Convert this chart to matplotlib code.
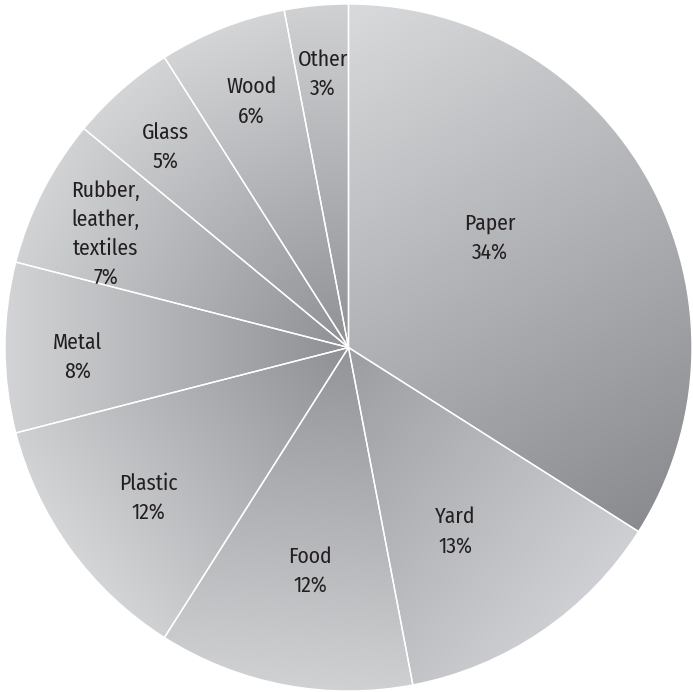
import numpy as np
import matplotlib.pyplot as plt
from matplotlib.colors import to_rgb

# Composition of municipal waste (percent of total)
categories = ["Paper", "Yard", "Food", "Plastic", "Metal",
              "Rubber,\nleather,\ntextiles", "Glass", "Wood", "Other"]
shares = [34, 13, 12, 12, 8, 7, 5, 6, 3]

# Per-slice shading: direction (deg) toward the light end, light and dark tones
light_dirs = [120, -40, -95, -144, 180, 153, 131, 112, 95]
light_tones = ["#d9dadc", "#cfd0d3", "#d0d1d3", "#d4d5d7", "#d3d4d6",
               "#d2d3d5", "#d4d5d7", "#d4d5d7", "#d0d1d3"]
dark_tones = ["#8a8b8f", "#9c9da1", "#939498", "#8f9094", "#8e8f93",
              "#8f9094", "#8f9094", "#8f9094", "#909195"]
# Label placement: radius fraction and angular shift from the slice bisector
label_r = [0.52, 0.62, 0.66, 0.73, 0.79, 0.78, 0.79, 0.77, 0.80]
label_shift = [9, -4, 1, 1, 2, 2, 1, 0, 0]

plt.rcParams['font.family'] = ['Fira Sans Condensed', 'PT Sans Narrow',
                               'Sofia Sans Condensed', 'Archivo Narrow',
                               'DejaVu Sans']

fig = plt.figure(figsize=(6.93, 6.92), dpi=100)
ax = fig.add_axes([0, 0, 1, 1])
ax.axis('off')

wedges, _ = ax.pie(shares, startangle=90, counterclock=False, radius=1,
                   center=(0, 0),
                   wedgeprops=dict(facecolor='none', edgecolor='white',
                                   linewidth=1.0, zorder=3))

r_px = 343.5
cx_px, cy_px = 348.5, 692 - 347.5
xmin, xmax = -cx_px / r_px, (693 - cx_px) / r_px
ymin, ymax = -cy_px / r_px, (692 - cy_px) / r_px
ax.set_aspect('auto')
ax.set_xlim(xmin, xmax)
ax.set_ylim(ymin, ymax)

nx, ny = 693, 692
gx = np.linspace(xmin, xmax, nx)
gy = np.linspace(ymin, ymax, ny)
X, Y = np.meshgrid(gx, gy)

for w, ang, lt, dk in zip(wedges, light_dirs, light_tones, dark_tones):
    d = np.array([np.cos(np.radians(ang)), np.sin(np.radians(ang))])
    th = np.radians(np.linspace(w.theta1, w.theta2, 200))
    px = np.concatenate([[0.0], w.r * np.cos(th)])
    py = np.concatenate([[0.0], w.r * np.sin(th)])
    proj = px * d[0] + py * d[1]
    pmin, pmax = proj.min(), proj.max()
    t = np.clip((X * d[0] + Y * d[1] - pmin) / (pmax - pmin), 0, 1)
    c0 = np.array(to_rgb(dk))
    c1 = np.array(to_rgb(lt))
    img = c0[None, None, :] + (c1 - c0)[None, None, :] * t[..., None]
    im = ax.imshow(img, extent=(xmin, xmax, ymin, ymax), origin='lower',
                   interpolation='bilinear', zorder=1, aspect='auto')
    im.set_clip_path(w)

for w, name, val, rf, sh in zip(wedges, categories, shares, label_r, label_shift):
    mid = np.radians((w.theta1 + w.theta2) / 2 + sh)
    ax.text(rf * np.cos(mid), rf * np.sin(mid), f"{name}\n{val}%",
            ha='center', va='center', fontsize=15.5, color='#231f20',
            linespacing=1.45, zorder=4)

fig.savefig('out.png', dpi=100)
